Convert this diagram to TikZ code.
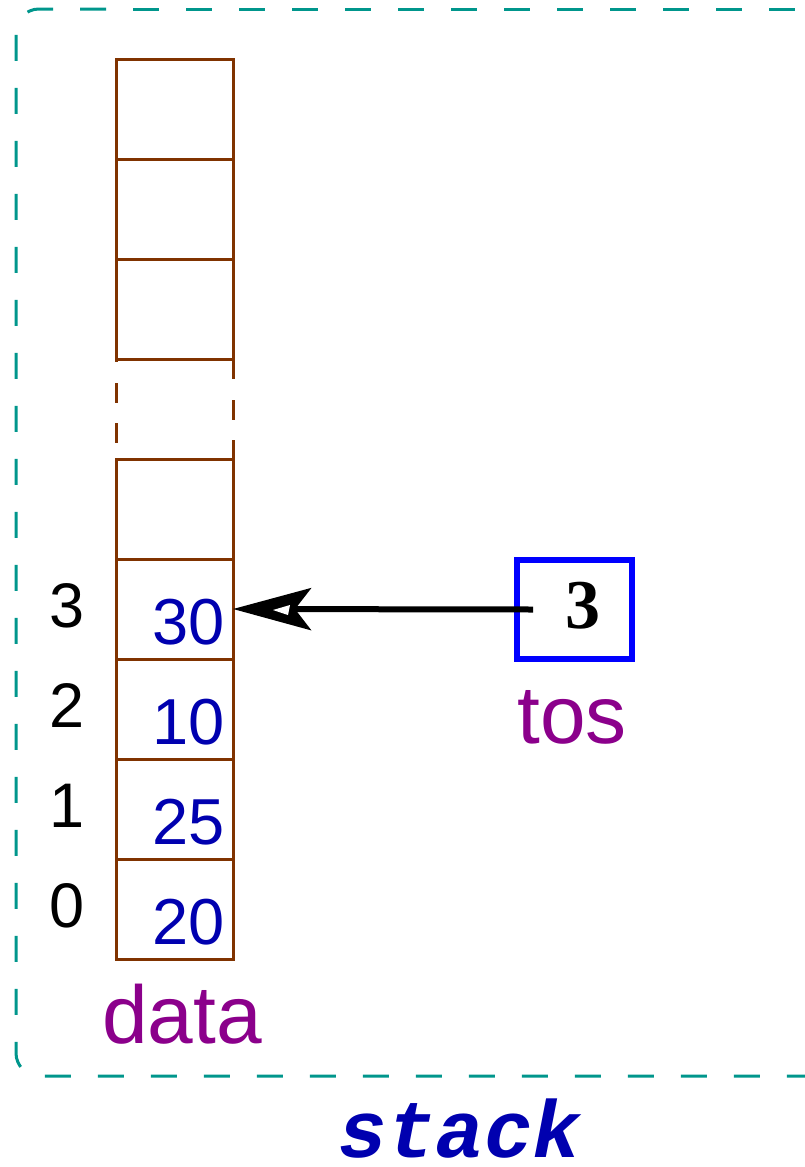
\documentclass[tikz,border=0pt]{standalone}
\usepackage{fontspec}
\setmainfont{Liberation Sans}
\newfontfamily\serifb{Liberation Serif}
\newfontfamily\monof{Liberation Mono}
\usetikzlibrary{arrows.meta}
\definecolor{brn}{RGB}{128,51,0}
\definecolor{tealb}{RGB}{0,150,140}
\definecolor{valblue}{RGB}{0,0,175}
\definecolor{purp}{RGB}{139,0,139}
\tikzset{
  cellbox/.style={draw=brn, line width=3pt, minimum width=117pt, minimum height=100pt, inner sep=0pt, outer sep=0pt},
  valtxt/.style={text=valblue, font=\fontsize{65}{65}\selectfont, anchor=base east, inner sep=0pt},
  idxtxt/.style={text=black, font=\fontsize{63}{63}\selectfont, anchor=base, inner sep=0pt},
  nametxt/.style={text=purp, font=\fontsize{82}{82}\selectfont, anchor=base, inner sep=0pt},
  frameline/.style={draw=tealb, line width=3pt, rounded corners=23pt},
}
\begin{document}
\begin{tikzpicture}[x=1pt,y=-1pt]
\useasboundingbox (0,0) rectangle (804,1167);
% frame
\draw[frameline, dash pattern=on 26pt off 27pt] (106,9) -- (16,9) -- (16,1076) -- (840,1076);
\draw[frameline, dash pattern=on 26pt off 27pt, dash phase=26pt] (106,9) -- (840,9);
% cells
\node[cellbox] (t1) at (174.5,109) {};
\node[cellbox] (t2) at (174.5,209) {};
\node[cellbox] (t3) at (174.5,309) {};
\node[cellbox] (c4) at (174.5,509) {};
\node[cellbox] (c3) at (174.5,609) {};
\node[cellbox] (c2) at (174.5,709) {};
\node[cellbox] (c1) at (174.5,809) {};
\node[cellbox] (c0) at (174.5,909) {};
\draw[brn, line width=3pt, dash pattern=on 3pt off 21pt on 20pt off 20pt on 20pt off 40pt] (t3.south west) -- (c4.north west);
\draw[brn, line width=3pt, dash pattern=on 20pt off 21pt on 20pt off 20pt on 20pt off 40pt] (t3.south east) -- (c4.north east);
% values
\node[valtxt] (v3) at (225,644) {30};
\node[valtxt] (v2) at (225,744) {10};
\node[valtxt] (v1) at (225,844) {25};
\node[valtxt] (v0) at (225,944) {20};
% indices
\node[idxtxt] (i3) at (67.5,627) {3};
\node[idxtxt] (i2) at (67.5,727) {2};
\node[idxtxt] (i1) at (67.5,827) {1};
\node[idxtxt] (i0) at (67.5,927) {0};
% labels
\node[nametxt] (dlab) at (182,1043) {data};
\node[nametxt] (tlab) at (572,743) {tos};
% tos box
\node[draw=blue, line width=5.5pt, minimum width=115pt, minimum height=99pt, inner sep=0pt, outer sep=0pt] (tos) at (574.5,609.5) {};
\node[font=\serifb\bfseries\fontsize{70}{70}\selectfont, anchor=base, inner sep=0pt] (tosval) at (583,628) {3};
% arrow
\draw[line width=6pt, -{Stealth[length=78pt,width=42pt,inset=16pt]}] ([xshift=16pt]tos.west) -- (c3.east);
\fill[white] (273,610) -- (290,605) -- (288,615) -- cycle;
% stack label
\node[text=valblue, font=\monof\bfseries\itshape\fontsize{81}{81}\selectfont, anchor=base, inner sep=0pt] (slab) at (460,1157) {stack};
\end{tikzpicture}
\end{document}
